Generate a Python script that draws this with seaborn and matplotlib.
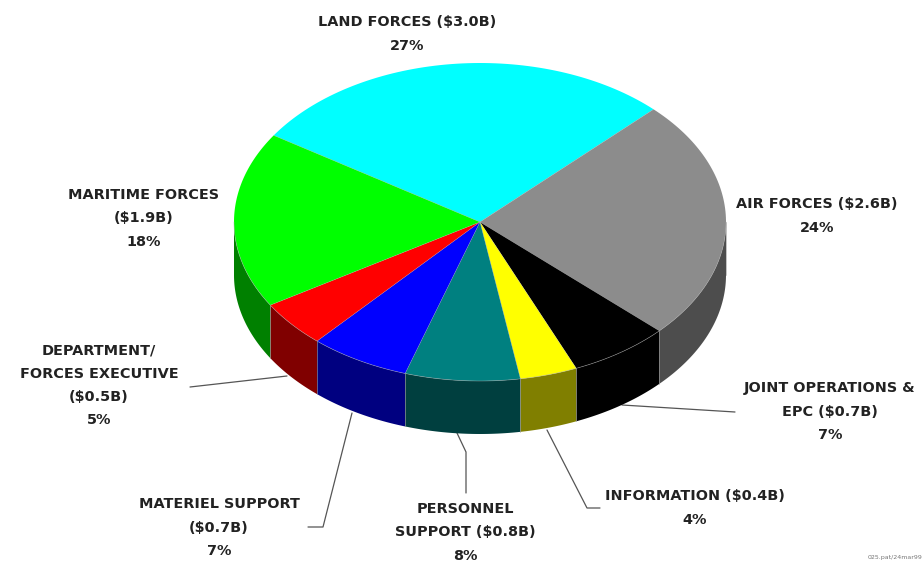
import numpy as np
import matplotlib
matplotlib.use("Agg")
import matplotlib.pyplot as plt
import seaborn as sns

# Defence budget by programme, clockwise from the top-left of the pie
programmes = ["Land Forces", "Air Forces", "Joint Operations & EPC", "Information",
              "Personnel Support", "Materiel Support", "Department/Forces Executive",
              "Maritime Forces"]
billions = [3.0, 2.6, 0.7, 0.4, 0.8, 0.7, 0.5, 1.9]
top_colors = ["#00FFFF", "#8C8C8C", "#000000", "#FFFF00",
              "#008080", "#0000FF", "#FF0000", "#00FF00"]
side_colors = ["#008080", "#4D4D4D", "#000000", "#807F00",
               "#003F3F", "#000080", "#800000", "#008000"]

# Label text, with the line-centre position of each block
label_lines = [
    ["LAND FORCES ($3.0B)", "27%"],
    ["AIR FORCES ($2.6B)", "24%"],
    ["JOINT OPERATIONS &", "EPC ($0.7B)", "7%"],
    ["INFORMATION ($0.4B)", "4%"],
    ["PERSONNEL", "SUPPORT ($0.8B)", "8%"],
    ["MATERIEL SUPPORT", "($0.7B)", "7%"],
    ["DEPARTMENT/", "FORCES EXECUTIVE", "($0.5B)", "5%"],
    ["MARITIME FORCES", "($1.9B)", "18%"],
]
label_x = [407, 817, 830, 695, 465, 219, 99, 144]
label_y = [22, 204, 388, 496, 509, 504, 350, 195]
line_step = 23.5

leaders = [
    ([190, 287], [387, 376]),
    ([308, 323, 352], [527, 527, 413]),
    ([457, 466, 466], [433, 452, 493]),
    ([547, 587, 600], [430, 508, 508]),
    ([622, 735], [405, 412]),
]

CX, CY, RX, RY, DEPTH = 480, 222, 246, 159, 53
START = 147.0

sns.set_theme(style="white")
fig, ax = plt.subplots(figsize=(9.24, 5.63), dpi=100)
fig.subplots_adjust(0, 0, 1, 1)
ax.set_xlim(0, 924)
ax.set_ylim(563, 0)
ax.axis("off")


def rim(a0, a1, n=80):
    t = np.radians(np.linspace(a0, a1, n))
    return CX + RX * np.cos(t), CY - RY * np.sin(t)


spans = np.array(billions) / sum(billions) * 360
ends = START - np.cumsum(spans)
starts = ends + spans

# Side wall: only the part of each slice on the near half of the ellipse
for a0, a1, col in zip(starts, ends, side_colors):
    for shift in (0, -360):
        hi, lo = min(a0 + shift, 0), max(a1 + shift, -180)
        if hi > lo:
            x, y = rim(hi, lo)
            ax.fill(np.r_[x, x[::-1]], np.r_[y, y[::-1] + DEPTH], color=col, lw=0, zorder=2)
            ax.plot([x[0], x[0]], [y[0], y[0] + DEPTH], color="#9a9a9a", lw=0.6, alpha=0.7, zorder=3)

# Top face
for a0, a1, col in zip(starts, ends, top_colors):
    x, y = rim(a0, a1)
    ax.fill(np.r_[CX, x], np.r_[CY, y], color=col, lw=0, zorder=4)
    ax.plot(np.r_[CX, x[0]], np.r_[CY, y[0]], color="#b0b0b0", lw=0.4, alpha=0.5, zorder=5)

# Light rim along the near edge of the top face
x, y = rim(0, -180, 200)
ax.plot(x, y, color="#a8a8a8", lw=0.5, alpha=0.6, zorder=5)

for xs, ys in leaders:
    ax.plot(xs, ys, color="#555555", lw=0.9, zorder=1)

for lines, lx, ly in zip(label_lines, label_x, label_y):
    for i, line in enumerate(lines):
        ax.text(lx, ly + i * line_step, line, ha="center", va="center",
                family="DejaVu Sans", weight="bold", fontsize=10.4, color="#222222")

ax.text(923, 557, "025.pat/24mar99", ha="right", va="center",
        family="DejaVu Sans", fontsize=4.5, color="#777777")

fig.savefig("out.png", dpi=100)
